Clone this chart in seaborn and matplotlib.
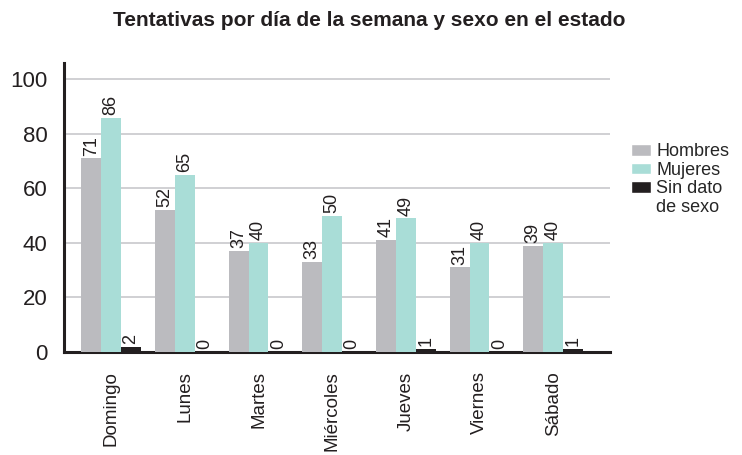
import matplotlib
matplotlib.use("Agg")
import matplotlib.pyplot as plt
from matplotlib.patches import Patch
import seaborn as sns
import pandas as pd

dias = ["Domingo", "Lunes", "Martes", "Miércoles", "Jueves", "Viernes", "Sábado"]
hombres = [71, 52, 37, 33, 41, 31, 39]
mujeres = [86, 65, 40, 50, 49, 40, 40]
sin_dato = [2, 0, 0, 0, 1, 0, 1]
series = ["Hombres", "Mujeres", "Sin dato de sexo"]
colores = ["#bbbbbf", "#a9ddd7", "#231f20"]
yticks = [0, 20, 40, 60, 80, 100]

rows = []
for vals, s in zip([hombres, mujeres, sin_dato], series):
    for d, v in zip(dias, vals):
        rows.append({"dia": d, "serie": s, "valor": v})
df = pd.DataFrame(rows)

sns.set_style("white")
plt.rcParams["font.family"] = ["Liberation Sans", "DejaVu Sans"]

fig = plt.figure(figsize=(7.42, 4.55), dpi=100)
ax = fig.add_axes([0.0863, 0.2264, 0.822 - 0.0863, 0.8615 - 0.2264])

sns.barplot(data=df, x="dia", y="valor", hue="serie", order=dias, hue_order=series,
            palette=colores, width=0.81, gap=0, saturation=1, ax=ax, legend=False,
            errorbar=None, linewidth=0, edgecolor="none", zorder=3)

for cont in ax.containers:
    ax.bar_label(cont, labels=[f"{int(b.get_height())}" for b in cont],
                 rotation=90, padding=2, fontsize=13, color="#231f20")

ax.set_ylim(0, 106)
ax.set_xlim(-0.64, 6.77)
ax.set_yticks(yticks)
ax.set_yticklabels([str(t) for t in yticks], fontsize=16, color="#231f20")
ax.set_xticks(range(len(dias)))
ax.set_xticklabels(dias, rotation=90, fontsize=13.5, color="#231f20", va="top")
ax.tick_params(axis="y", length=0, pad=12)
ax.tick_params(axis="x", length=0, pad=14)
ax.set_xlabel("")
ax.set_ylabel("")
ax.yaxis.grid(True, color="#c8c8cc", linewidth=1.2, zorder=0)
ax.set_axisbelow(True)
for s in ["top", "right"]:
    ax.spines[s].set_visible(False)
for s in ["left", "bottom"]:
    ax.spines[s].set_color("#231f20")
    ax.spines[s].set_linewidth(2.2)

handles = [Patch(facecolor=colores[0]), Patch(facecolor=colores[1]),
           Patch(facecolor=colores[2]), Patch(facecolor="none", edgecolor="none")]
labels = ["Hombres", "Mujeres", "Sin dato", "de sexo"]
fig.legend(handles, labels, loc="upper left", bbox_to_anchor=(0.838, 0.705),
           frameon=False, fontsize=13, handlelength=1.1, handleheight=0.6,
           labelspacing=0.08, handletextpad=0.3, borderpad=0)

fig.suptitle("Tentativas por día de la semana y sexo en el estado", x=0.497, y=0.975,
             fontsize=15, fontweight="bold", color="#231f20")

fig.savefig("out.png", dpi=100)
